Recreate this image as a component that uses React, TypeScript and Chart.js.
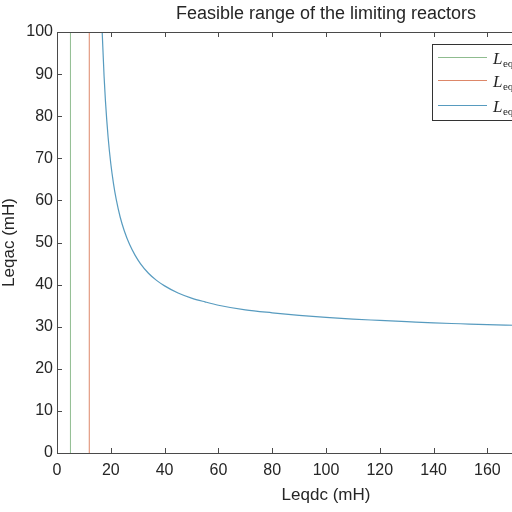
import React, { useEffect, useRef } from "react";
import { Chart, registerables } from "chart.js";

Chart.register(...registerables);

// ---- data ----
const titleText = "Feasible range of the limiting reactors";
const xAxisLabel = "Leqdc (mH)";
const yAxisLabel = "Leqac (mH)";

const xMin = 0;
const xMax = 200;
const xStep = 20;
const yMin = 0;
const yMax = 100;
const yStep = 10;

// vertical limit lines
const greenX = [5, 5];
const greenY = [0, 100];
const orangeX = [12, 12];
const orangeY = [0, 100];

// feasible-range boundary curve
const curveX = [16.8, 17.5, 18, 19, 20, 21, 22, 23.5, 25, 27, 29, 31, 34, 37, 40, 45, 50, 55, 60, 70, 80, 90, 100, 110, 120, 130, 140, 150, 160, 170, 180, 190, 200];
const curveY = [100, 89.5, 83.7, 75, 68.7, 64, 60.3, 56, 52.8, 49.5, 47, 45, 42.7, 41, 39.7, 38, 36.8, 35.9, 35.1, 34, 33.3, 32.7, 32.2, 31.8, 31.5, 31.2, 30.9, 30.7, 30.5, 30.35, 30.2, 30.05, 29.9];

const seriesSubs = ["eqdc,min", "eqdc,max", "eqac,min"];
const seriesColors = ["rgba(95,160,95,0.7)", "rgba(210,95,55,0.75)", "rgba(45,130,175,0.8)"];

const axisColor = "#4a4a4a";
const textColor = "#262626";
const sansFont = "'Liberation Sans', Arial, Helvetica, sans-serif";

function pts(xs: number[], ys: number[]) {
  return xs.map((x, i) => ({ x, y: ys[i] }));
}

const boxPlugin = {
  id: "matlabBox",
  afterDraw(chart: any) {
    const { ctx, chartArea } = chart;
    const { left, right, top, bottom } = chartArea;
    const xs = chart.scales.x;
    const ys = chart.scales.y;
    ctx.save();

    // title centred over the axes
    ctx.fillStyle = textColor;
    ctx.font = "18px " + sansFont;
    ctx.textAlign = "center";
    ctx.textBaseline = "middle";
    ctx.fillText(titleText, (left + right) / 2, 14);

    ctx.strokeStyle = axisColor;
    ctx.lineWidth = 1;
    ctx.beginPath();
    ctx.rect(Math.round(left) + 0.5, Math.round(top) + 0.5, Math.round(right - left), Math.round(bottom - top));
    ctx.stroke();
    const tl = 5;
    ctx.beginPath();
    xs.ticks.forEach((t: any) => {
      const px = Math.round(xs.getPixelForValue(t.value)) + 0.5;
      ctx.moveTo(px, bottom);
      ctx.lineTo(px, bottom - tl);
      ctx.moveTo(px, top);
      ctx.lineTo(px, top + tl);
    });
    ys.ticks.forEach((t: any) => {
      const py = Math.round(ys.getPixelForValue(t.value)) + 0.5;
      ctx.moveTo(left, py);
      ctx.lineTo(left + tl, py);
      ctx.moveTo(right, py);
      ctx.lineTo(right - tl, py);
    });
    ctx.stroke();

    // legend (inside, north-east)
    const boxW = 158;
    const boxRight = right - 5;
    const boxLeft = boxRight - boxW;
    const boxTop = top + 12;
    const boxBottom = top + 88;
    ctx.fillStyle = "#ffffff";
    ctx.fillRect(boxLeft, boxTop, boxW, boxBottom - boxTop);
    ctx.strokeStyle = "#333333";
    ctx.strokeRect(Math.round(boxLeft) + 0.5, Math.round(boxTop) + 0.5, boxW, Math.round(boxBottom - boxTop));
    const rowOffsets = [25, 47.5, 72.5];
    rowOffsets.forEach((off, i) => {
      const y = Math.round(top + off) + 0.5;
      ctx.strokeStyle = seriesColors[i];
      ctx.lineWidth = 1;
      ctx.beginPath();
      ctx.moveTo(boxLeft + 6, y);
      ctx.lineTo(boxLeft + 55, y);
      ctx.stroke();
      ctx.fillStyle = textColor;
      ctx.textBaseline = "alphabetic";
      ctx.textAlign = "left";
      ctx.font = "italic 17px 'Liberation Serif', 'Times New Roman', serif";
      ctx.fillText("L", boxLeft + 61, y + 6);
      const lw = ctx.measureText("L").width;
      ctx.font = "11px 'Liberation Serif', 'Times New Roman', serif";
      ctx.fillText(seriesSubs[i], boxLeft + 61 + lw + 0.5, y + 9);
    });
    ctx.restore();
  },
};

export default function App() {
  const canvasRef = useRef<HTMLCanvasElement | null>(null);

  useEffect(() => {
    const canvas = canvasRef.current;
    if (!canvas) return;
    const chart = new Chart(canvas, {
      type: "line",
      data: {
        datasets: [
          {
            label: "L" + seriesSubs[0],
            data: pts(greenX, greenY),
            borderColor: seriesColors[0],
            borderWidth: 1,
            pointRadius: 0,
          },
          {
            label: "L" + seriesSubs[1],
            data: pts(orangeX, orangeY),
            borderColor: seriesColors[1],
            borderWidth: 1,
            pointRadius: 0,
          },
          {
            label: "L" + seriesSubs[2],
            data: pts(curveX, curveY),
            borderColor: seriesColors[2],
            borderWidth: 1.2,
            pointRadius: 0,
            cubicInterpolationMode: "monotone",
          },
        ],
      },
      options: {
        animation: false,
        responsive: false,
        devicePixelRatio: 1,
        layout: { padding: { left: 0, right: 25, top: 32, bottom: 0 } },
        plugins: {
          legend: { display: false },
          tooltip: { enabled: false },
          title: { display: false },
        },
        scales: {
          x: {
            type: "linear",
            min: xMin,
            max: xMax,
            grid: { display: false, drawTicks: false },
            border: { display: false },
            ticks: {
              stepSize: xStep,
              color: textColor,
              padding: 8,
              maxRotation: 0,
              font: { family: sansFont, size: 16 },
            },
            title: {
              display: true,
              text: xAxisLabel,
              color: textColor,
              font: { family: sansFont, size: 17, lineHeight: 1.2 },
              padding: { top: 0, bottom: 6 },
            },
            afterFit: (scale: any) => {
              scale.height = 59;
            },
          },
          y: {
            type: "linear",
            min: yMin,
            max: yMax,
            grid: { display: false, drawTicks: false },
            border: { display: false },
            ticks: {
              stepSize: yStep,
              color: textColor,
              padding: 4,
              font: { family: sansFont, size: 16 },
            },
            title: {
              display: true,
              text: yAxisLabel,
              color: textColor,
              font: { family: sansFont, size: 17, lineHeight: 1.2 },
              padding: { top: -1, bottom: 0 },
            },
            afterFit: (scale: any) => {
              scale.width = 57;
            },
          },
        },
      } as any,
      plugins: [boxPlugin],
    });
    return () => chart.destroy();
  }, []);

  return (
    <div
      style={{
        position: "fixed",
        left: 0,
        top: 0,
        width: 512,
        height: 512,
        overflow: "hidden",
        background: "#ffffff",
      }}
    >
      <canvas ref={canvasRef} width={620} height={512} style={{ width: 620, height: 512, display: "block" }} />
    </div>
  );
}
